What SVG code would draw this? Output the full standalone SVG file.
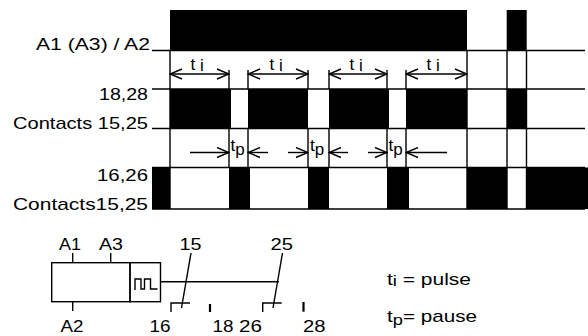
<svg xmlns="http://www.w3.org/2000/svg" width="588" height="336" viewBox="0 0 588 336">
<style>
text { font-family: "Liberation Sans", Arial, sans-serif; font-size: 17px; fill: #000; }
.ln { stroke: #000; stroke-width: 1.4; fill: none; }
.thk { stroke: #000; stroke-width: 2.2; fill: none; }
.blk { fill: #000; }
.arr2 { stroke: #000; stroke-width: 1.4; fill: none; marker-start: url(#ah); marker-end: url(#ah); }
.arr1 { stroke: #000; stroke-width: 1.4; fill: none; marker-end: url(#ah); }
.sub { font-size: 15px; }
</style>
<defs>
<marker id="ah" markerUnits="userSpaceOnUse" viewBox="0 0 14 12" markerWidth="14" markerHeight="12" refX="13" refY="6" orient="auto-start-reverse">
<path d="M1,1 L13,6 L1,11" fill="none" stroke="#000" stroke-width="1.4"/>
</marker>
</defs>
<rect width="588" height="336" fill="#fff"/>

<g id="labels">
<text x="36" y="50" textLength="114" lengthAdjust="spacingAndGlyphs">A1 (A3) / A2</text>
<text x="99" y="100" textLength="49" lengthAdjust="spacingAndGlyphs">18,28</text>
<text x="13" y="128.5" textLength="135" lengthAdjust="spacingAndGlyphs">Contacts 15,25</text>
<text x="97" y="181" textLength="51" lengthAdjust="spacingAndGlyphs">16,26</text>
<text x="13" y="210" textLength="135" lengthAdjust="spacingAndGlyphs">Contacts15,25</text>
</g>

<g id="row-supply">
<rect class="blk" x="170" y="10" width="297" height="40.5"/>
<rect class="blk" x="506.7" y="10" width="20" height="40.5"/>
</g>

<g id="row-contacts-18-28">
<rect class="blk" x="170" y="89" width="61" height="39.5"/>
<rect class="blk" x="248" y="89" width="60" height="39.5"/>
<rect class="blk" x="329" y="89" width="60" height="39.5"/>
<rect class="blk" x="406" y="89" width="61" height="39.5"/>
<rect class="blk" x="507" y="89" width="20" height="39.5"/>
</g>

<g id="row-contacts-16-26">
<rect class="blk" x="152" y="167.5" width="18" height="41.5"/>
<rect class="blk" x="229" y="167.5" width="21" height="41.5"/>
<rect class="blk" x="308" y="167.5" width="21" height="41.5"/>
<rect class="blk" x="387" y="167.5" width="22" height="41.5"/>
<rect class="blk" x="467" y="167.5" width="40" height="41.5"/>
<rect class="blk" x="527" y="167.5" width="61" height="41.5"/>
</g>

<g id="connectors">
<path class="ln" d="M152,50.5 H585 M152,89 H585 M152,128.5 H585 M152,167.5 H585 M152,209 H585"/>
<path class="ln" d="M170,50.5 V209 M467,50.5 V209 M507,50.5 V209 M526.5,50.5 V209"/>
<path class="ln" d="M229,70 V89 M248,70 V89 M308,70 V89 M329,70 V89 M387,70 V89 M406,70 V89"/>
<path class="ln" d="M229,128.5 V167.5 M248,128.5 V167.5 M308,128.5 V167.5 M329,128.5 V167.5 M387,128.5 V167.5 M406,128.5 V167.5"/>
<line class="arr2" x1="170" y1="74" x2="229" y2="74"/>
<line class="arr2" x1="248" y1="74" x2="308" y2="74"/>
<line class="arr2" x1="329" y1="74" x2="387" y2="74"/>
<line class="arr2" x1="406" y1="74" x2="467" y2="74"/>
<line class="arr1" x1="190" y1="152.5" x2="229" y2="152.5"/>
<line class="arr1" x1="268" y1="152.5" x2="248" y2="152.5"/>
<line class="arr1" x1="288" y1="152.5" x2="308" y2="152.5"/>
<line class="arr1" x1="348" y1="152.5" x2="329" y2="152.5"/>
<line class="arr1" x1="368" y1="152.5" x2="387" y2="152.5"/>
<line class="arr1" x1="447" y1="152.5" x2="406" y2="152.5"/>
</g>

<g id="time-labels">
<text x="190.5" y="70">t<tspan x="200" dy="1">i</tspan></text>
<text x="269.5" y="70">t<tspan x="279" dy="1">i</tspan></text>
<text x="349.5" y="70">t<tspan x="359" dy="1">i</tspan></text>
<text x="426.5" y="70">t<tspan x="436" dy="1">i</tspan></text>
<text x="230.5" y="151">t<tspan dy="4">p</tspan></text>
<text x="310" y="151">t<tspan dy="4">p</tspan></text>
<text x="388.5" y="151">t<tspan dy="4">p</tspan></text>
</g>

<g id="relay">
<rect class="ln" x="51.7" y="262.7" width="78.3" height="39"/>
<rect class="ln" x="130" y="262.7" width="30.5" height="39"/>
<path class="ln" d="M72.7,253 V262.7 M110.7,253 V262.7 M72.7,301.7 V311"/>
<path class="ln" d="M135,290 V279 H141 V289 H144.5 V279 H150.5 V289 H157.5"/>
<text x="59" y="249.5" textLength="22" lengthAdjust="spacingAndGlyphs">A1</text>
<text x="99" y="249.5" textLength="24" lengthAdjust="spacingAndGlyphs">A3</text>
<text x="60.5" y="332" textLength="23" lengthAdjust="spacingAndGlyphs">A2</text>
</g>

<g id="contact-15">
<path class="ln" d="M160.5,281.7 H279"/>
<path class="ln" d="M191,253 L181.5,308"/>
<path class="ln" d="M171,312 V303 H190"/>
<path class="thk" d="M210,304 V312"/>
<text x="179.5" y="249.5" textLength="22" lengthAdjust="spacingAndGlyphs">15</text>
<text x="149.5" y="332" textLength="21" lengthAdjust="spacingAndGlyphs">16</text>
<text x="212.5" y="332" textLength="21" lengthAdjust="spacingAndGlyphs">18</text>
</g>

<g id="contact-25">
<path class="ln" d="M282.5,253 L273,308"/>
<path class="ln" d="M262.7,312 V303 H281.7"/>
<path class="thk" d="M303.5,302 V311.7"/>
<text x="270.5" y="249.5" textLength="22.5" lengthAdjust="spacingAndGlyphs">25</text>
<text x="239" y="332" textLength="23" lengthAdjust="spacingAndGlyphs">26</text>
<text x="303" y="332" textLength="22.5" lengthAdjust="spacingAndGlyphs">28</text>
</g>

<g id="legend">
<text x="387" y="285" textLength="84" lengthAdjust="spacingAndGlyphs">t<tspan class="sub" dy="1">i</tspan><tspan dy="-1"> = pulse</tspan></text>
<text x="387" y="321.5" textLength="90" lengthAdjust="spacingAndGlyphs">t<tspan class="sub" dy="3">p</tspan><tspan dy="-3">= pause</tspan></text>
</g>
</svg>
